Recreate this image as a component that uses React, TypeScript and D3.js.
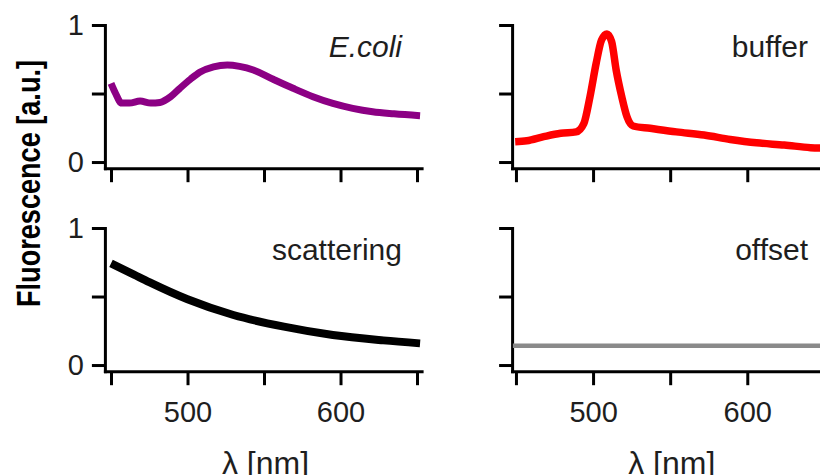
import React, { useEffect, useRef } from 'react';
import * as d3 from 'd3';

// ---- data ----
const ecoliWavelength = [450, 453, 457, 462, 469, 476, 482, 489, 495, 502, 508, 517, 526, 534, 543, 556, 569, 582, 595, 608, 621, 635, 652];
const ecoliValue = [0.574, 0.5, 0.43, 0.43, 0.445, 0.43, 0.435, 0.477, 0.538, 0.605, 0.655, 0.695, 0.708, 0.698, 0.672, 0.604, 0.538, 0.477, 0.428, 0.392, 0.367, 0.352, 0.338];

const bufferWavelength = [449.5, 457, 468, 479, 489, 494, 498, 502, 505.5, 509, 512, 515, 518.6, 522, 526, 537, 554, 572, 589, 606, 624, 641, 655];
const bufferValue = [0.148, 0.155, 0.185, 0.21, 0.22, 0.28, 0.477, 0.72, 0.89, 0.935, 0.88, 0.67, 0.477, 0.33, 0.263, 0.246, 0.22, 0.197, 0.165, 0.14, 0.124, 0.105, 0.1];

const scatteringWavelength = [450, 465, 475, 500, 530, 563, 595, 628, 652];
const scatteringValue = [0.742, 0.66, 0.605, 0.48, 0.365, 0.28, 0.219, 0.18, 0.158];

const offsetWavelength = [448, 655];
const offsetValue = [0.14, 0.14];

const panelNames = ['E.coli', 'buffer', 'scattering', 'offset'];
const xTicks = [450, 500, 550, 600, 650];
const xTickLabels = [500, 600];
const yTicks = [0, 0.5, 1];
const yTickLabels = [0, 1];
const xTitle = 'λ [nm]';
const yTitle = 'Fluorescence [a.u.]';

const FONT = "'Liberation Sans', Arial, Helvetica, sans-serif";

export default function App() {
  const ref = useRef<SVGSVGElement>(null);

  useEffect(() => {
    const svg = d3.select(ref.current);
    svg.selectAll('*').remove();

    const xCols = [
      d3.scaleLinear().domain([446, 653]).range([104.9, 421.6]),
      d3.scaleLinear().domain([447.5, 655]).range([512.1, 832.1]),
    ];
    const yRows = [
      d3.scaleLinear().domain([-0.045, 1]).range([168.2, 25]),
      d3.scaleLinear().domain([-0.045, 1]).range([371.2, 228]),
    ];

    const panels = [
      { wl: ecoliWavelength, v: ecoliValue, color: '#8c0084', w: 7, col: 0, row: 0, italic: true },
      { wl: bufferWavelength, v: bufferValue, color: '#ff0000', w: 7.5, col: 1, row: 0, italic: false },
      { wl: scatteringWavelength, v: scatteringValue, color: '#000000', w: 8, col: 0, row: 1, italic: false },
      { wl: offsetWavelength, v: offsetValue, color: '#8a8a8a', w: 4.5, col: 1, row: 1, italic: false },
    ];

    panels.forEach((p, i) => {
      const x = xCols[p.col];
      const y = yRows[p.row];
      const g = svg.append('g');

      const yAxis = d3
        .axisLeft(y)
        .tickValues(yTicks)
        .tickSize(13)
        .tickPadding(8)
        .tickSizeOuter(0)
        .tickFormat((d) => (p.col === 0 && yTickLabels.includes(d as number) ? d3.format('d')(d as number) : ''));
      const gy = g.append('g').attr('transform', `translate(${x.range()[0]},0)`).call(yAxis);

      const xAxis = d3
        .axisBottom(x)
        .tickValues(xTicks)
        .tickSize(14)
        .tickPadding(16)
        .tickSizeOuter(0)
        .tickFormat((d) => (p.row === 1 && xTickLabels.includes(d as number) ? String(d) : ''));
      const gx = g.append('g').attr('transform', `translate(0,${y.range()[0]})`).call(xAxis);

      [gx, gy].forEach((ax) => {
        ax.attr('font-family', FONT).attr('font-size', 29);
        ax.select('.domain').attr('stroke', '#000').attr('stroke-width', 3).attr('stroke-linecap', 'square');
        ax.selectAll('.tick line').attr('stroke', '#000').attr('stroke-width', 3);
        ax.selectAll('.tick text').attr('fill', '#1e1e1e');
      });

      const line = d3
        .line<number>()
        .x((_, k) => x(p.wl[k]))
        .y((d) => y(d))
        .curve(d3.curveMonotoneX);
      g.append('path')
        .datum(p.v)
        .attr('d', line)
        .attr('fill', 'none')
        .attr('stroke', p.color)
        .attr('stroke-width', p.w)
        .attr('stroke-linejoin', 'round');

      g.append('text')
        .attr('x', p.col === 0 ? 402 : 808)
        .attr('y', y(1) + 32)
        .attr('text-anchor', 'end')
        .attr('font-family', FONT)
        .attr('font-size', 30)
        .attr('font-style', p.italic ? 'italic' : 'normal')
        .attr('fill', '#1e1e1e')
        .text(panelNames[i]);
    });

    xCols.forEach((x) => {
      svg
        .append('text')
        .attr('x', x(551))
        .attr('y', 474)
        .attr('text-anchor', 'middle')
        .attr('font-family', FONT)
        .attr('font-size', 32)
        .attr('fill', '#1e1e1e')
        .text(xTitle);
    });

    svg
      .append('text')
      .attr('transform', 'translate(40,183.5) rotate(-90)')
      .attr('text-anchor', 'middle')
      .attr('font-family', FONT)
      .attr('font-size', 34)
      .attr('font-weight', 'bold')
      .attr('textLength', 247)
      .attr('lengthAdjust', 'spacingAndGlyphs')
      .attr('fill', '#000')
      .text(yTitle);
  }, []);

  return (
    <svg
      ref={ref}
      width={820}
      height={475}
      style={{ position: 'absolute', left: 0, top: 0, background: '#fff' }}
    />
  );
}
